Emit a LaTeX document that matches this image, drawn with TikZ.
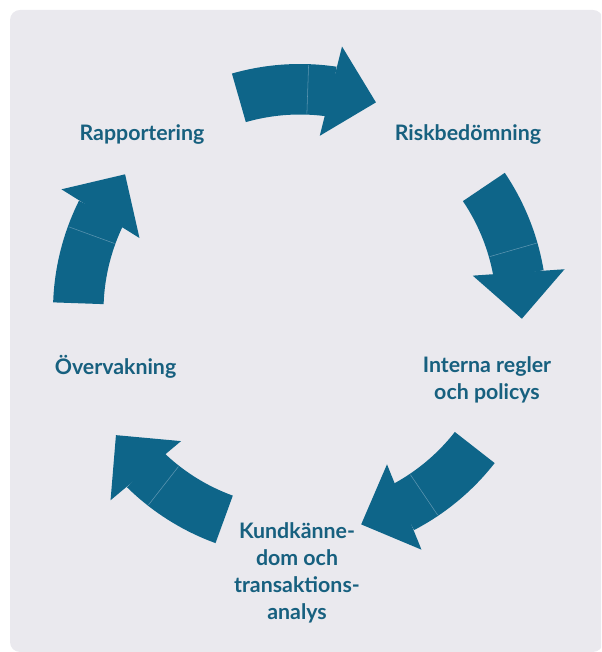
\documentclass[tikz,border=0pt]{standalone}
\usepackage{fontspec}
\setmainfont{Lato}
\usetikzlibrary{calc}
\definecolor{bgc}{HTML}{EAE9EE}
\definecolor{arrc}{HTML}{0E6589}
\definecolor{txtc}{HTML}{17607F}
\definecolor{splitc}{HTML}{5E97B2}
\newcommand\ringarrow[1]{%
  \fill[arrc] ($(c)+(#1:247)$) arc[start angle=#1, end angle=#1-24.5, radius=247]
     -- ($(c)+(#1-24.5:196.5)$) arc[start angle=#1-24.5, end angle=#1, radius=196.5] -- cycle;
  \coordinate (hb) at ($(c)+(#1-24:222)$);
  \coordinate (ht) at ($(c)+(#1-36:222)$);
  \fill[arrc] ($(hb)!34.5pt!90:(ht)$) -- (ht) -- ($(hb)!34.5pt!-90:(ht)$) -- cycle;
  \draw[splitc, line width=0.4pt] ($(c)+(#1-18:197.5)$) -- ($(c)+(#1-18:246)$);
}
\begin{document}
\begin{tikzpicture}[x=0.75pt,y=0.75pt,
  lbl/.style={text=txtc, font=\bfseries\fontsize{16pt}{20.25pt}\selectfont, align=center, inner sep=0pt}]
\useasboundingbox (0,0) rectangle (601,652);
\begin{scope}
  \clip (0,0) rectangle (601,652);
  \fill[bgc, rounded corners=7.5pt] (10,0) rectangle (603,642);
\end{scope}
\coordinate (c) at (300,341);
\ringarrow{106}
\ringarrow{34}
\ringarrow{-38}
\ringarrow{-110}
\ringarrow{178}
\node[lbl] (rap) at (142,517) {Rapportering};
\node[lbl] (risk) at (468,517) {Riskbedömning};
\node[lbl] (int) at (487,272) {Interna regler\\och policys};
\node[lbl] (ovr) at (115.5,285) {Övervakning};
\node[lbl] (kund) at (297,79.5) {Kundkänne-\\dom och\\transaktions-\\analys};
\end{tikzpicture}
\end{document}
